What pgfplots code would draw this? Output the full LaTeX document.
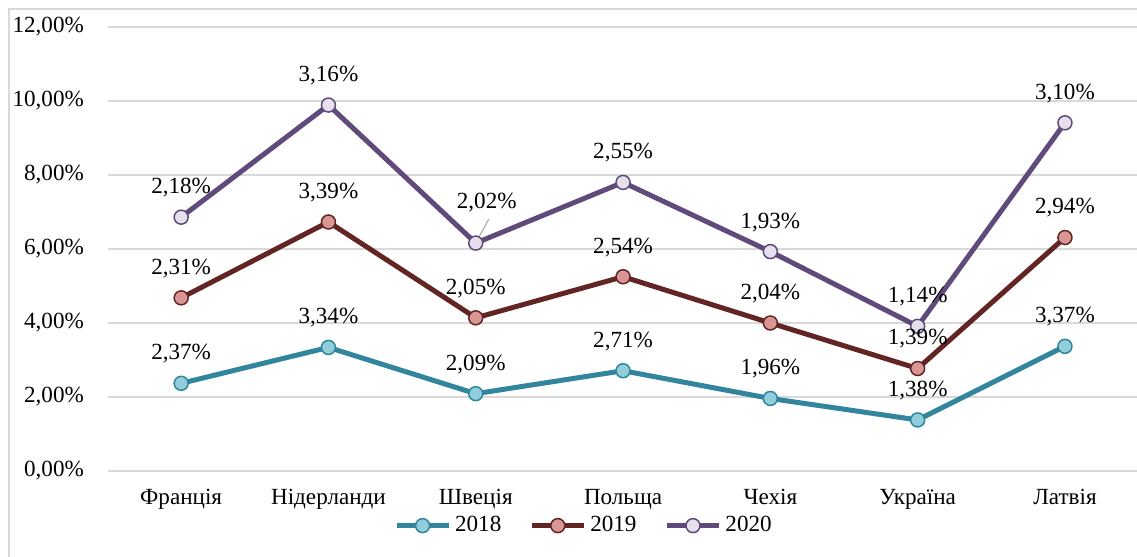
\documentclass[border=0pt]{standalone}
\usepackage{fontspec}
\setmainfont{Liberation Serif}
\usepackage{pgfplots}
\pgfplotsset{compat=1.18}
\usepackage{pgfplotstable}
\definecolor{c18}{HTML}{31859C}
\definecolor{f18}{HTML}{92CDDC}
\definecolor{c19}{HTML}{632523}
\definecolor{f19}{HTML}{D99694}
\definecolor{c20}{HTML}{604A7B}
\definecolor{f20}{HTML}{E6E0EC}
\definecolor{gridc}{HTML}{D9D9D9}
\pgfplotstableread{
x y18 l18 y19 l19 y20 l20
0 2.37 2,37\% 2.31 2,31\% 2.18 2,18\%
1 3.34 3,34\% 3.39 3,39\% 3.16 3,16\%
2 2.09 2,09\% 2.05 2,05\% 2.02 {}
3 2.71 2,71\% 2.54 2,54\% 2.55 2,55\%
4 1.96 1,96\% 2.04 2,04\% 1.93 1,93\%
5 1.38 1,38\% 1.39 1,39\% 1.14 1,14\%
6 3.37 3,37\% 2.94 2,94\% 3.10 3,10\%
}\data
\newcommand{\fs}{\fontsize{11.6}{13.5}\selectfont}
\begin{document}
\begin{tikzpicture}
\useasboundingbox (0,0) rectangle (568.5bp,278.5bp);
\draw[gridc, line width=1bp] (4.5bp,-10bp) rectangle (600bp,274bp);
\begin{axis}[
  at={(53.75bp,43bp)}, anchor=south west, scale only axis,
  width=515.55bp, height=222bp,
  xmin=-0.5, xmax=6.5, ymin=0, ymax=12,
  clip=false,
  axis line style={draw=none},
  major tick style={draw=none},
  minor tick style={draw=none},
  ymajorgrids, grid style={gridc, line width=0.75bp},
  ytick={0,2,...,12},
  yticklabels={{0,00\%},{2,00\%},{4,00\%},{6,00\%},{8,00\%},{10,00\%},{12,00\%}},
  xtick={0,...,6},
  xticklabels={Франція,Нідерланди,Швеція,Польща,Чехія,Україна,Латвія},
  ticklabel style={font=\fs, text=black},
  yticklabel style={xshift=-8.3bp},
  xticklabel style={yshift=-5.5bp},
  stack plots=y,
  point meta=explicit symbolic,
  nodes near coords,
  every node near coord/.append style={font=\fs, text=black, anchor=south, yshift=6.3bp},
  legend columns=3,
  legend style={at={(0.463,-0.123)}, anchor=center, draw=none, fill=none, font=\fs,
    /tikz/every even column/.append style={column sep=12bp}},
  legend image code/.code={
    \draw[#1, mark repeat=2, mark phase=2] plot coordinates {(0bp,0bp) (13bp,0bp) (26bp,0bp)};
  },
]
\addplot[c18, line width=2.5bp, mark=*, mark size=3.5bp, mark options={fill=f18, draw=c18, line width=0.75bp}]
  table[x=x, y=y18, meta=l18] {\data};
\addlegendentry{2018}
\addplot[c19, line width=2.5bp, mark=*, mark size=3.5bp, mark options={fill=f19, draw=c19, line width=0.75bp}]
  table[x=x, y=y19, meta=l19] {\data};
\addlegendentry{2019}
\addplot[c20, line width=2.5bp, mark=*, mark size=3.5bp, mark options={fill=f20, draw=c20, line width=0.75bp}]
  table[x=x, y=y20, meta=l20] {\data};
\addlegendentry{2020}
\draw[gray!70, line width=0.5bp] (axis cs:2,6.16) ++(0.5bp,1bp) -- ++(6bp,11bp);
\node[font=\fs, text=black] at (axis cs:2,6.16) [xshift=5.5bp, yshift=20bp] {2,02\%};
\end{axis}
\end{tikzpicture}
\end{document}
